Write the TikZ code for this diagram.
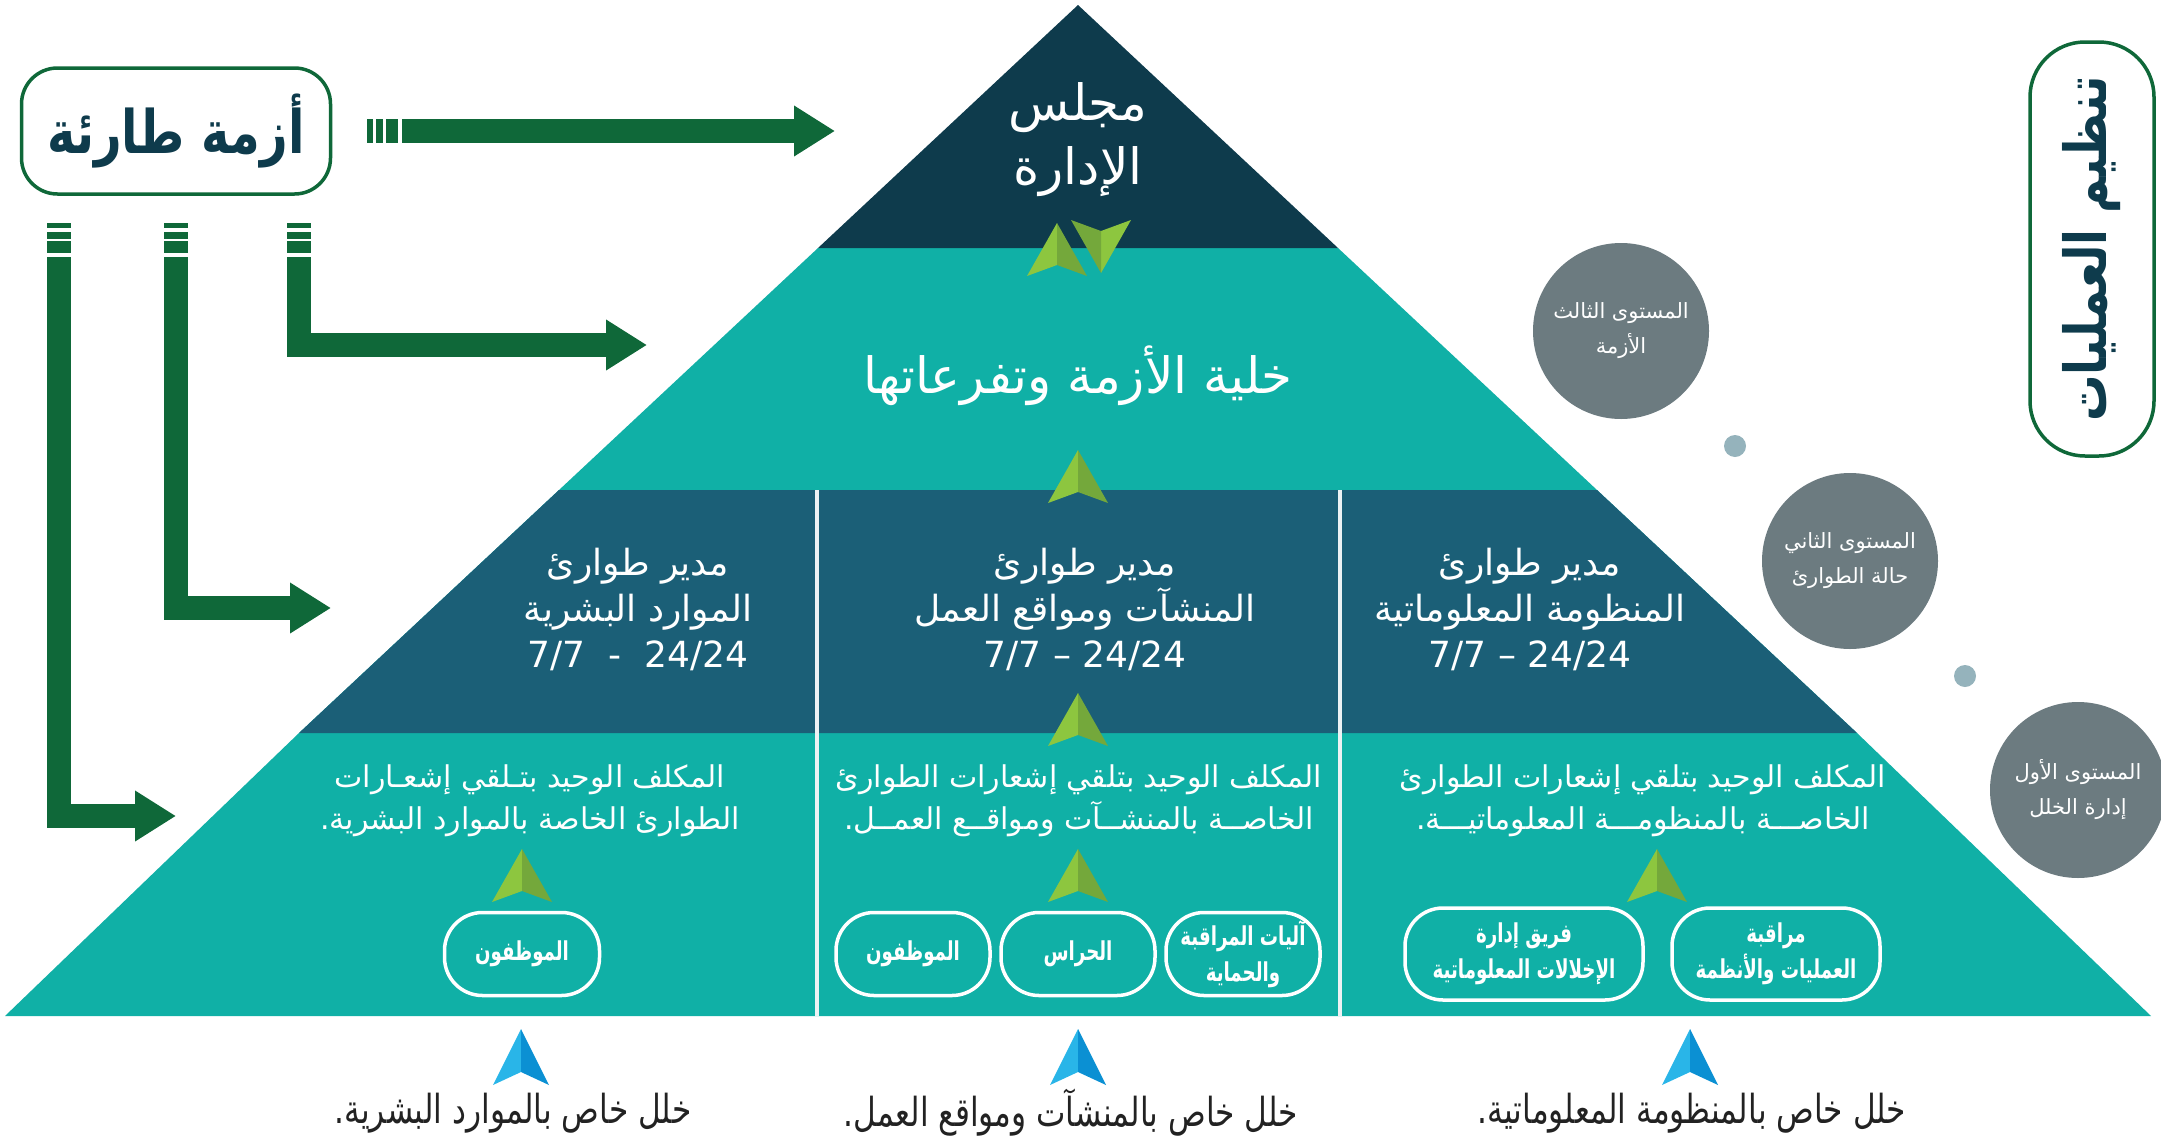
\documentclass[tikz,border=0pt]{standalone}
\usepackage{fontspec}
\usepackage{xcolor}
\usepackage{tikz}
\usetikzlibrary{arrows.meta,positioning}
\TeXXeTstate=1
\newfontfamily\arfont[Script=Arabic]{DejaVu Sans}
\newfontfamily\arcond[Script=Arabic,FakeStretch=0.78]{DejaVu Sans}
\newfontfamily\arboldcond[Script=Arabic,FakeStretch=0.8]{DejaVu Sans Bold}
\newfontfamily\arboldnarrow[Script=Arabic,FakeStretch=0.7]{DejaVu Sans Bold}
\newcommand{\artxt}[1]{\beginR #1\endR}

\definecolor{pyrnavy}{HTML}{0E3B4C}
\definecolor{pyrteal}{HTML}{10B0A6}
\definecolor{pyrblue}{HTML}{1B5F77}
\definecolor{flowgreen}{HTML}{0F6839}
\definecolor{levelgray}{HTML}{6C7B80}
\definecolor{dotblue}{HTML}{95B3BC}
\definecolor{labelgray}{HTML}{222222}
\definecolor{tipgreenL}{HTML}{8DC63F}
\definecolor{tipgreenR}{HTML}{74A83B}
\definecolor{tipblueL}{HTML}{29B5E8}
\definecolor{tipblueR}{HTML}{0B90D3}

\tikzset{
  greentip/.pic={
    \fill[tipgreenL] (0,0) -- (-30,53) -- (0,42) -- cycle;
    \fill[tipgreenR] (0,0) -- (0,42) -- (30,53) -- cycle;
  },
  bluetip/.pic={
    \fill[tipblueL] (0,0) -- (-28,56) -- (0,43) -- cycle;
    \fill[tipblueR] (0,0) -- (0,43) -- (28,56) -- cycle;
  }
}

\begin{document}
\begin{tikzpicture}[
    x=1pt, y=-1pt,
    framebox/.style={
        rectangle,
        draw=flowgreen,
        line width=3.5pt,
        text=pyrnavy,
        inner sep=0pt},
    flowarrow/.style={
        draw=flowgreen,
        line width=24pt,
        line join=miter,
        -{Triangle[length=41pt,width=48pt]}},
    headtext/.style={text=white, align=center, font=\arfont\fontsize{50}{64}\selectfont},
    bandtext/.style={text=white, align=center, font=\arfont\fontsize{36}{46}\selectfont},
    celltext/.style={text=white, align=center, font=\arfont\fontsize{30}{42}\selectfont},
    oval/.style={
        rectangle,
        draw=white,
        line width=3.5pt,
        rounded corners=38pt,
        inner sep=0pt,
        text=white,
        align=center,
        font=\arboldnarrow\fontsize{26}{36}\selectfont},
    level/.style={
        circle,
        fill=levelgray,
        minimum size=176pt,
        inner sep=0pt,
        text=white,
        align=center,
        font=\arfont\fontsize{21}{35}\selectfont},
    leveldot/.style={circle, fill=dotblue, minimum size=22pt, inner sep=0pt},
    faultlabel/.style={text=labelgray, font=\arcond\fontsize{40}{44}\selectfont},
    divider/.style={draw=white!92!pyrblue, line width=4pt}]
  \useasboundingbox (0,0) rectangle (2161,1138);

  % pyramid
  \coordinate (apex) at (1078,5);
  \coordinate (nl) at (818,248);  \coordinate (nr) at (1338,248);
  \coordinate (cl) at (559,490);  \coordinate (cr) at (1597,490);
  \coordinate (ml) at (299,733);  \coordinate (mr) at (1857,733);
  \coordinate (bl) at (5,1016);   \coordinate (br) at (2151,1016);
  \fill[pyrteal] (nl) -- (nr) -- (cr) -- (mr) -- (br) -- (bl) -- (ml) -- (cl) -- cycle;
  \fill[pyrnavy] (apex) -- (nr) -- (nl) -- cycle;
  \fill[pyrblue] (cl) -- (cr) -- (mr) -- (ml) -- cycle;
  \foreach \x in {817,1340}
    \draw[divider] (\x,490) -- (\x,1016);

  % levels of the pyramid
  \node (board) [headtext] at (1078,140) {\artxt{مجلس}\\\artxt{الإدارة}};
  \node (cell) [headtext, font=\arfont\fontsize{50}{56}\selectfont] at (1078,376) {\artxt{خلية الأزمة وتفرعاتها}};

  \node (hrhead) [bandtext] at (638,609) {\artxt{مدير طوارئ}\\\artxt{الموارد البشرية}\\7/7~~-~~24/24};
  \node (sitehead) [bandtext] at (1085,609) {\artxt{مدير طوارئ}\\\artxt{المنشآت ومواقع العمل}\\7/7 – 24/24};
  \node (ithead) [bandtext] at (1530,609) {\artxt{مدير طوارئ}\\\artxt{المنظومة المعلوماتية}\\7/7 – 24/24};

  \node (hrduty) [celltext] at (530,801) {\artxt{المكلف الوحيد بتـلقي إشعـارات}\\\artxt{الطوارئ الخاصة بالموارد البشرية.}};
  \node (siteduty) [celltext] at (1079,801) {\artxt{المكلف الوحيد بتلقي إشعارات الطوارئ}\\\artxt{الخاصــة بالمنشــآت ومواقــع العمــل.}};
  \node (itduty) [celltext] at (1643,801) {\artxt{المكلف الوحيد بتلقي إشعارات الطوارئ}\\\artxt{الخاصـــة بالمنظومـــة المعلوماتيـــة.}};

  \node (hrstaff) [oval, minimum width=155pt, minimum height=83pt] at (522,954) {\artxt{الموظفون}};
  \node (sitestaff) [oval, minimum width=154pt, minimum height=83pt] at (913,954) {\artxt{الموظفون}};
  \node (guards) [oval, minimum width=154pt, minimum height=83pt] at (1078,954) {\artxt{الحراس}};
  \node (monitor) [oval, minimum width=154pt, minimum height=83pt] at (1243,954) {\artxt{آليات المراقبة}\\\artxt{والحماية}};
  \node (itteam) [oval, minimum width=238pt, minimum height=92pt] at (1524,954) {\artxt{فريق إدارة}\\\artxt{الإخلالات المعلوماتية}};
  \node (opsmon) [oval, minimum width=208pt, minimum height=92pt] at (1776,954) {\artxt{مراقبة}\\\artxt{العمليات والأنظمة}};

  % green tips between levels
  \pic at (1057,223) {greentip};
  \pic[rotate=180] at (1101,273) {greentip};
  \pic at (1078,450) {greentip};
  \pic at (1078,693) {greentip};
  \foreach \x in {522,1078,1657}
    \pic at (\x,849) {greentip};

  % faults under the base
  \foreach \x in {521,1078,1690}
    \pic at (\x,1029) {bluetip};
  \node (hrfault) [faultlabel] at (513,1113) {\artxt{خلل خاص بالموارد البشرية.}};
  \node (sitefault) [faultlabel] at (1071,1113) {\artxt{خلل خاص بالمنشآت ومواقع العمل.}};
  \node (itfault) [faultlabel] at (1692,1113) {\artxt{خلل خاص بالمنظومة المعلوماتية.}};

  % escalation levels
  \node (lvlthree) [level] at (1621,331) {\artxt{المستوى الثالث}\\\artxt{الأزمة}};
  \node (dotA) [leveldot] at (1735,446) {};
  \node (lvltwo) [level] at (1850,561) {\artxt{المستوى الثاني}\\\artxt{حالة الطوارئ}};
  \node (dotB) [leveldot] at (1965,676) {};
  \node (lvlone) [level] at (2078,790) {\artxt{المستوى الأول}\\\artxt{إدارة الخلل}};

  \node (opsorg) [framebox, rotate=90, minimum width=414pt, minimum height=124pt,
      rounded corners=55pt, font=\arboldcond\fontsize{58}{64}\selectfont]
      at (2092,249) {\artxt{تنظيم العمليات}};

  % crisis and its arrows
  \node (crisis) [framebox, minimum width=309pt, minimum height=126pt,
      rounded corners=36pt, font=\arboldcond\fontsize{60}{66}\selectfont]
      at (176,131) {\artxt{أزمة طارئة}};

  \coordinate (toboard) at (835,131);
  \coordinate (tocell) at (647,345);
  \coordinate (tohead) at (331,608);
  \coordinate (toduty) at (176,816);
  \coordinate (fromA) at (59,257);
  \coordinate (fromB) at (176,257);
  \coordinate (fromC) at (299,257);

  \foreach \a/\b in {367/373,376/383,386/398}
    \fill[flowgreen] (\a,119) rectangle (\b,143);
  \foreach \x in {59,176,299}
    \foreach \a/\b in {223/228,232/239,241/253}
      \fill[flowgreen] (\x-12,\a) rectangle (\x+12,\b);

  \draw[flowarrow] (402,131) -- (toboard);
  \draw[flowarrow] (fromC) |- (tocell);
  \draw[flowarrow] (fromB) |- (tohead);
  \draw[flowarrow] (fromA) |- (toduty);
\end{tikzpicture}
\end{document}
